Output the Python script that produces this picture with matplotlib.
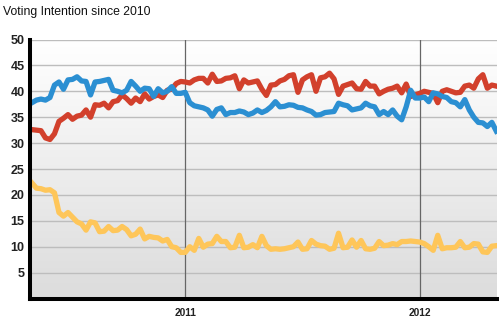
import numpy as np
import pandas as pd
import matplotlib
matplotlib.use('Agg')
import matplotlib.pyplot as plt

# weekly readings, Conservative / Labour / Lib Dem (%)
weeks = pd.date_range('2010-05-08', periods=104, freq='7D')

con = [37.8, 38.3, 38.5, 38.3, 38.8, 41.2, 41.8, 40.4, 42.2, 42.3,
       42.8, 42.0, 41.9, 39.3, 41.8, 41.9, 42.1, 42.3, 40.2, 40.0,
       39.7, 40.2, 41.9, 41.0, 40.0, 40.6, 40.5, 39.0, 40.5, 39.7,
       40.0, 40.9, 39.6, 39.6, 39.8, 37.8, 37.2, 37.0, 36.8, 36.4,
       35.2, 36.5, 36.8, 35.5, 35.9, 35.9, 36.2, 36.0, 35.5, 35.8,
       36.4, 35.9, 36.3, 37.0, 38.0, 37.0, 37.1, 37.4, 37.3, 36.9,
       36.8, 36.4, 36.1, 35.4, 35.5, 35.9, 36.0, 36.1, 37.7, 37.4,
       37.2, 36.4, 36.6, 36.8, 37.7, 37.2, 37.0, 35.5, 36.1, 35.5,
       36.4, 35.2, 34.5, 37.0, 40.2, 38.7, 38.7, 38.9, 38.0, 39.7,
       39.5, 39.0, 38.8, 38.0, 37.8, 37.0, 38.4, 36.4, 35.0, 34.0,
       33.9, 33.2, 34.0, 32.3]

lab = [32.6, 32.5, 32.4, 31.0, 30.7, 31.8, 34.2, 34.8, 35.5, 34.6,
       35.2, 35.4, 36.4, 35.0, 37.4, 37.3, 37.7, 36.8, 38.0, 38.2,
       39.3, 38.6, 37.7, 38.7, 38.0, 39.5, 38.5, 39.0, 39.3, 38.8,
       40.2, 40.4, 41.5, 41.9, 41.8, 41.6, 42.2, 42.5, 42.5, 41.6,
       43.3, 41.9, 42.0, 42.5, 42.6, 43.0, 40.5, 42.2, 41.6, 41.8,
       42.0, 40.4, 39.2, 41.2, 41.3, 42.0, 42.3, 43.0, 43.2, 39.8,
       42.2, 42.8, 43.2, 40.0, 42.6, 42.8, 43.5, 42.4, 39.4, 41.0,
       41.3, 41.6, 40.5, 40.4, 41.9, 41.0, 41.0, 39.5, 40.0, 40.4,
       40.6, 41.0, 39.7, 41.4, 39.0, 39.3, 39.6, 40.0, 39.8, 39.6,
       37.8, 40.0, 40.3, 40.0, 39.7, 39.8, 41.0, 41.2, 40.6, 42.4,
       43.2, 40.6, 41.2, 41.0]

ld = [22.3, 21.3, 21.2, 20.9, 21.0, 20.4, 16.6, 15.9, 16.6, 15.7,
      14.8, 14.4, 13.2, 14.8, 14.6, 12.9, 13.0, 13.9, 13.1, 13.2,
      13.9, 13.3, 12.1, 12.4, 13.4, 11.5, 12.0, 11.8, 11.7, 11.1,
      11.4, 10.0, 9.8, 8.9, 8.9, 10.0, 9.3, 11.6, 9.9, 10.5,
      10.6, 12.0, 11.0, 11.0, 9.8, 9.9, 12.2, 9.8, 9.9, 10.4,
      9.8, 12.0, 10.2, 9.5, 9.6, 9.5, 9.6, 9.8, 10.0, 10.9,
      9.5, 9.6, 11.2, 10.5, 10.2, 10.1, 9.5, 9.7, 12.6, 9.8,
      9.9, 11.3, 9.9, 11.2, 9.6, 9.5, 9.7, 11.0, 10.2, 10.3,
      10.6, 10.4, 11.0, 11.0, 11.1, 11.0, 10.9, 10.6, 10.0, 9.3,
      12.2, 9.6, 9.8, 9.8, 9.9, 11.0, 9.8, 9.9, 10.6, 10.5,
      9.0, 8.9, 10.1, 10.2]

yticks = [5, 10, 15, 20, 25, 30, 35, 40, 45, 50]
years = ['2011-01-01', '2012-01-01']
year_labels = ['2011', '2012']

W, H = 502, 322
fig = plt.figure(figsize=(W / 100, H / 100), dpi=100)
ax = fig.add_axes([30 / W, (H - 298.5) / H, (497 - 30) / W, (298.5 - 39.5) / H])

x0 = pd.Timestamp('2010-05-05')
x1 = pd.Timestamp('2012-04-29')
ax.set_xlim(x0, x1)
ax.set_ylim(0, 50)

# grey gradient background
grad = np.linspace(1.0, 0.0, 256).reshape(-1, 1)
ax.imshow(grad, cmap=matplotlib.colors.LinearSegmentedColormap.from_list('g', ['#dcdcdc', '#ffffff']),
          extent=[matplotlib.dates.date2num(x0), matplotlib.dates.date2num(x1), 0, 50],
          aspect='auto', zorder=0, vmin=0, vmax=1)

for v in yticks:
    ax.axhline(v, color='#bdbdbd', lw=1.0, zorder=1)
for d in years:
    ax.axvline(pd.Timestamp(d), color='#666666', lw=0.9, zorder=2)

lw = 3.8
ax.plot(weeks, ld, color='#fec65a', lw=lw, zorder=3, solid_joinstyle='round')
ax.plot(weeks, lab, color='#d2402c', lw=lw, zorder=4, solid_joinstyle='round')
ax.plot(weeks, con, color='#2b8fd2', lw=lw, zorder=5, solid_joinstyle='round')

ax.set_yticks(yticks)
ax.set_yticklabels([str(v) for v in yticks], fontsize=9, fontweight='bold',
                   family='Liberation Sans', color='#222222')
ax.set_xticks([pd.Timestamp(d) for d in years])
ax.set_xticklabels(year_labels, fontsize=7.4, fontweight='bold',
                   family='Liberation Sans', color='#222222')
ax.tick_params(axis='both', length=0)
ax.tick_params(axis='y', pad=4)
ax.tick_params(axis='x', pad=7)

for s in ['top', 'right']:
    ax.spines[s].set_visible(False)
for s in ['left', 'bottom']:
    ax.spines[s].set_color('black')
    ax.spines[s].set_linewidth(2.9)
    ax.spines[s].set_zorder(6)

fig.text(3 / W, 1 - 12 / H, 'Voting Intention since 2010', fontsize=8.8,
         family='Liberation Sans', va='center', ha='left', color='#111111')

fig.savefig('out.png', dpi=100)
